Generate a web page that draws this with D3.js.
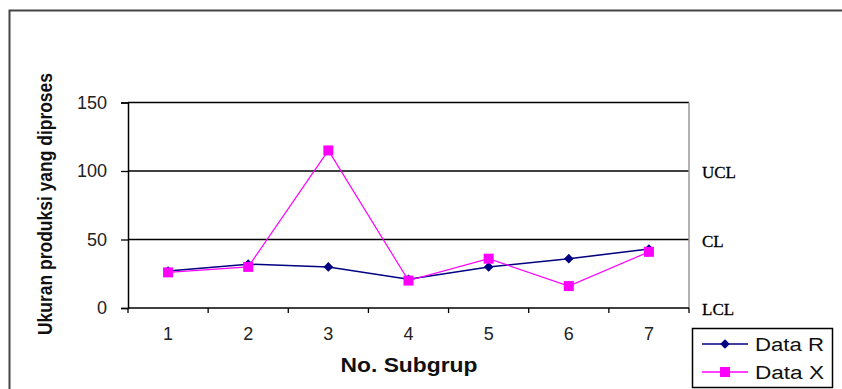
<!DOCTYPE html>
<html>
<head>
<meta charset="utf-8">
<script src="https://cdn.jsdelivr.net/npm/d3@7"></script>
<style>
  body { margin: 0; background: #fff; }
  svg { display: block; }
</style>
</head>
<body>
<svg id="chart" width="842" height="389"></svg>
<script>
// data
var subgroups = ["1", "2", "3", "4", "5", "6", "7"];
var dataR = [27, 32, 30, 21, 30, 36, 43];
var dataX = [26, 30, 115, 20, 36, 16, 41];
var yTicks = [0, 50, 100, 150];
var controlLines = [100, 50, 0];
var controlLabels = ["UCL", "CL", "LCL"];

var svg = d3.select("#chart");

var margin = { top: 102.5, right: 153, bottom: 81, left: 128 },
    width = 842 - margin.left - margin.right,
    height = 389 - margin.top - margin.bottom;

// outer frame (runs off the picture to the right and bottom)
svg.append("rect")
    .attr("x", 9.5).attr("y", 10.5)
    .attr("width", 900).attr("height", 500)
    .attr("fill", "none")
    .attr("stroke", "#444")
    .attr("stroke-width", 2);

var g = svg.append("g").attr("transform", "translate(" + margin.left + "," + margin.top + ")");

var x = d3.scaleBand().domain(subgroups).range([0, width]);
var y = d3.scaleLinear().domain([0, 150]).range([height, 0]);

var cx = function (d, i) { return x(subgroups[i]) + x.bandwidth() / 2; };

// gridlines
g.selectAll(".grid")
    .data(yTicks.filter(function (d) { return d > 0; }))
    .enter().append("line")
    .attr("x1", 0).attr("x2", width)
    .attr("y1", function (d) { return y(d); })
    .attr("y2", function (d) { return y(d); })
    .attr("stroke", "#000")
    .attr("stroke-width", 1.3);

// right border of plot area
g.append("line")
    .attr("x1", width).attr("x2", width)
    .attr("y1", 0).attr("y2", height)
    .attr("stroke", "#999").attr("stroke-width", 1.5);

// x axis baseline
g.append("line")
    .attr("x1", 0).attr("x2", width)
    .attr("y1", height).attr("y2", height)
    .attr("stroke", "#000").attr("stroke-width", 1.5);

// category boundary ticks
var bounds = subgroups.map(function (s) { return x(s); }).concat([width]);
g.selectAll(".xtick")
    .data(bounds)
    .enter().append("line")
    .attr("x1", function (d) { return d; })
    .attr("x2", function (d) { return d; })
    .attr("y1", height).attr("y2", height + 5)
    .attr("stroke", "#000").attr("stroke-width", 1.3);

g.selectAll(".xlabel")
    .data(subgroups)
    .enter().append("text")
    .attr("x", function (d) { return x(d) + x.bandwidth() / 2; })
    .attr("y", height + 32)
    .attr("text-anchor", "middle")
    .attr("font-family", "Liberation Sans, Arial, sans-serif")
    .attr("font-size", "18px")
    .attr("fill", "#222")
    .text(function (d) { return d; });

var yAxis = g.append("g")
    .call(d3.axisLeft(y).tickValues(yTicks).tickSize(7).tickPadding(14));
yAxis.select(".domain").attr("stroke", "#000").attr("stroke-width", 1.5);
yAxis.selectAll(".tick line").attr("stroke", "#000").attr("stroke-width", 1.3);
yAxis.selectAll(".tick text")
    .attr("font-family", "Liberation Sans, Arial, sans-serif")
    .attr("font-size", "18px")
    .attr("fill", "#222");

// control limit labels
g.selectAll(".ctl")
    .data(controlLines)
    .enter().append("text")
    .attr("x", width + 13)
    .attr("y", function (d) { return y(d) + 7; })
    .attr("font-family", "Liberation Serif, Times New Roman, serif")
    .attr("font-size", "17px")
    .attr("fill", "#000")
    .attr("stroke", "#000")
    .attr("stroke-width", 0.3)
    .text(function (d, i) { return controlLabels[i]; });

// series lines
var line = d3.line().x(cx).y(function (d) { return y(d); });

g.append("path").datum(dataR)
    .attr("d", line)
    .attr("fill", "none")
    .attr("stroke", "#000080")
    .attr("stroke-width", 1.5);

g.append("path").datum(dataX)
    .attr("d", line)
    .attr("fill", "none")
    .attr("stroke", "#FF00FF")
    .attr("stroke-width", 1.2);

g.selectAll(".mR")
    .data(dataR)
    .enter().append("path")
    .attr("d", d3.symbol().type(d3.symbolDiamond2).size(60))
    .attr("transform", function (d, i) { return "translate(" + cx(d, i) + "," + y(d) + ")"; })
    .attr("fill", "#000080");

g.selectAll(".mX")
    .data(dataX)
    .enter().append("rect")
    .attr("x", function (d, i) { return cx(d, i) - 5; })
    .attr("y", function (d) { return y(d) - 5; })
    .attr("width", 10).attr("height", 10)
    .attr("fill", "#FF00FF");

// axis titles
svg.append("text")
    .attr("transform", "translate(52,204) rotate(-90)")
    .attr("text-anchor", "middle")
    .attr("font-family", "Liberation Sans, Arial, sans-serif")
    .attr("font-weight", "bold")
    .attr("font-size", "21px")
    .attr("textLength", 262)
    .attr("lengthAdjust", "spacingAndGlyphs")
    .attr("fill", "#111")
    .text("Ukuran produksi yang diproses");

svg.append("text")
    .attr("x", 409)
    .attr("y", 372)
    .attr("text-anchor", "middle")
    .attr("font-family", "Liberation Sans, Arial, sans-serif")
    .attr("font-weight", "bold")
    .attr("font-size", "20px")
    .attr("textLength", 137)
    .attr("lengthAdjust", "spacingAndGlyphs")
    .attr("fill", "#111")
    .text("No. Subgrup");

// legend
var legend = svg.append("g").attr("transform", "translate(692,328)");
legend.append("rect")
    .attr("x", 0.5).attr("y", 0.5)
    .attr("width", 140).attr("height", 59)
    .attr("fill", "#fff")
    .attr("stroke", "#000").attr("stroke-width", 1.5);

var legendItems = [
    { name: "Data R", color: "#000080", marker: "diamond" },
    { name: "Data X", color: "#FF00FF", marker: "square" }
];

legendItems.forEach(function (item, i)
{
    var ly = 16 + i * 28;
    legend.append("line")
        .attr("x1", 10).attr("x2", 56)
        .attr("y1", ly).attr("y2", ly)
        .attr("stroke", item.color).attr("stroke-width", 1.5);
    if (item.marker === "diamond")
    {
        legend.append("path")
            .attr("d", d3.symbol().type(d3.symbolDiamond2).size(60))
            .attr("transform", "translate(33," + ly + ")")
            .attr("fill", item.color);
    }
    else
    {
        legend.append("rect")
            .attr("x", 28).attr("y", ly - 5)
            .attr("width", 10).attr("height", 10)
            .attr("fill", item.color);
    }
    legend.append("text")
        .attr("x", 63)
        .attr("y", ly + 7)
        .attr("font-family", "Liberation Sans, Arial, sans-serif")
        .attr("font-size", "18px")
        .attr("textLength", 69)
        .attr("lengthAdjust", "spacingAndGlyphs")
        .attr("fill", "#111")
        .text(item.name);
});
</script>
</body>
</html>
